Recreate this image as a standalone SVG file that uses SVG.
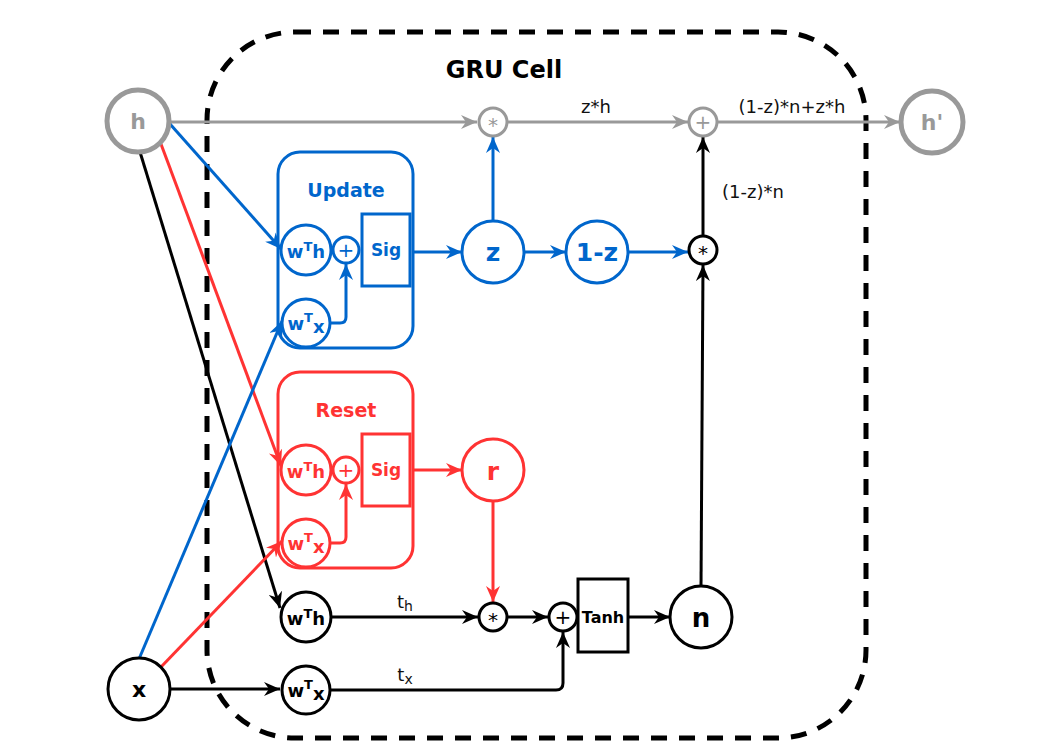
<svg xmlns="http://www.w3.org/2000/svg" width="1038" height="756" viewBox="0 0 1038 756">
<style>
.t{font-family:"DejaVu Sans","Liberation Sans",sans-serif;text-anchor:middle}
.b{font-weight:bold}
.lbl{font-size:18px;fill:#111}
.w{font-size:18px;font-weight:bold}
.s{font-size:13px}
.op{font-size:20px}
.bl{stroke:#0066cc;fill:none;stroke-width:3}
.rd{stroke:#ff3333;fill:none;stroke-width:3}
.bk{stroke:#000;fill:none;stroke-width:3}
.gy{stroke:#999;fill:none;stroke-width:3}
.nb{fill:#fff;stroke:#0066cc;stroke-width:3}
.nr{fill:#fff;stroke:#ff3333;stroke-width:3}
.nk{fill:#fff;stroke:#000;stroke-width:3}
.ng{fill:#fff;stroke:#999;stroke-width:3}
.ngb{fill:#fff;stroke:#999;stroke-width:5}
.fb{fill:#0066cc}.fr{fill:#ff3333}.fk{fill:#000}.fg{fill:#999}
</style>
<defs>
<marker id="ab" viewBox="0 0 16 14" refX="16" refY="7" markerWidth="16" markerHeight="14" markerUnits="userSpaceOnUse" orient="auto"><path d="M0,0 L16,7 L0,14 L5,7 Z" fill="#0066cc"/></marker>
<marker id="ar" viewBox="0 0 16 14" refX="16" refY="7" markerWidth="16" markerHeight="14" markerUnits="userSpaceOnUse" orient="auto"><path d="M0,0 L16,7 L0,14 L5,7 Z" fill="#ff3333"/></marker>
<marker id="ak" viewBox="0 0 16 14" refX="16" refY="7" markerWidth="16" markerHeight="14" markerUnits="userSpaceOnUse" orient="auto"><path d="M0,0 L16,7 L0,14 L5,7 Z" fill="#000"/></marker>
<marker id="ag" viewBox="0 0 16 14" refX="16" refY="7" markerWidth="16" markerHeight="14" markerUnits="userSpaceOnUse" orient="auto"><path d="M0,0 L16,7 L0,14 L5,7 Z" fill="#999"/></marker>
</defs>
<rect width="1038" height="756" fill="#fff"/>

<g id="gru-cell">
<rect x="207" y="32" width="659" height="706" rx="88" fill="none" stroke="#000" stroke-width="5" stroke-dasharray="16 12"/>
<text class="t b" x="504" y="78" font-size="24">GRU Cell</text>
</g>

<g id="update-box">
<rect x="278" y="152" width="135" height="196" rx="22" class="nb"/>
<text class="t b fb" x="346" y="197" font-size="19">Update</text>
</g>
<g id="reset-box">
<rect x="278" y="372" width="135" height="196" rx="22" class="nr"/>
<text class="t b fr" x="346" y="417" font-size="19">Reset</text>
</g>

<g id="connectors">
<path class="gy" d="M169,122 L477,122" marker-end="url(#ag)"/>
<path class="gy" d="M508,122 L688,122" marker-end="url(#ag)"/>
<path class="gy" d="M718,122 L900,122" marker-end="url(#ag)"/>
<path class="bl" d="M170,124 L281,249" marker-end="url(#ab)"/>
<path class="rd" d="M161,144 L281,466" marker-end="url(#ar)"/>
<path class="bk" d="M140,152 L280,608" marker-end="url(#ak)"/>
<path class="bl" d="M139,659 L282,321" marker-end="url(#ab)"/>
<path class="rd" d="M161,667 L282,541" marker-end="url(#ar)"/>
<path class="bk" d="M170,689 L280,689" marker-end="url(#ak)"/>
<path class="bl" d="M330,323 L340,323 Q346,323 346,317 L346,264" marker-end="url(#ab)"/>
<path class="bl" d="M413,252 L462,252" marker-end="url(#ab)"/>
<path class="bl" d="M493,221 L493,137" marker-end="url(#ab)"/>
<path class="bl" d="M524,252 L566,252" marker-end="url(#ab)"/>
<path class="bl" d="M628,252 L688,252" marker-end="url(#ab)"/>
<path class="bk" d="M703,235 L703,137" marker-end="url(#ak)"/>
<path class="rd" d="M330,543 L340,543 Q346,543 346,537 L346,484" marker-end="url(#ar)"/>
<path class="rd" d="M413,470 L462,470" marker-end="url(#ar)"/>
<path class="rd" d="M493,501 L493,602" marker-end="url(#ar)"/>
<path class="bk" d="M331,617 L478,617" marker-end="url(#ak)"/>
<path class="bk" d="M508,617 L548,617" marker-end="url(#ak)"/>
<path class="bk" d="M330,690 L556,690 Q563,690 563,683 L563,632" marker-end="url(#ak)"/>
<path class="bk" d="M628,617 L670,617" marker-end="url(#ak)"/>
<path class="bk" d="M701,586 L703,265" marker-end="url(#ak)"/>
<text class="t lbl" x="596" y="113">z*h</text>
<text class="t lbl" x="792" y="113">(1-z)*n+z*h</text>
<text class="t lbl" x="753" y="198">(1-z)*n</text>
<text class="t lbl" x="405" y="608">t<tspan font-size="14" dy="3">h</tspan></text>
<text class="t lbl" x="405" y="681">t<tspan font-size="14" dy="3">x</tspan></text>
</g>

<g id="h">
<circle cx="138" cy="121" r="31" class="ngb"/>
<text class="t b fg" x="138" y="129" font-size="22">h</text>
</g>
<g id="h-prime">
<circle cx="932" cy="122" r="31" class="ngb"/>
<text class="t b fg" x="932" y="130" font-size="22">h'</text>
</g>
<g id="x">
<circle cx="139" cy="689" r="31" class="nk"/>
<text class="t b" x="139" y="697" font-size="22">x</text>
</g>

<g id="mul-zh">
<circle cx="493" cy="122" r="14" class="ng"/>
<text class="t op fg" x="493" y="132">*</text>
</g>
<g id="add-out">
<circle cx="703" cy="122" r="14" class="ng"/>
<text class="t op fg" x="703" y="129">+</text>
</g>

<g id="update-wth">
<circle cx="306" cy="250" r="25" class="nb"/>
<text class="t w fb" x="306" y="258">w<tspan class="s" dy="-7">T</tspan><tspan dy="7">h</tspan></text>
</g>
<g id="update-add">
<circle cx="346" cy="250" r="13" class="nb"/>
<text class="t op fb" x="346" y="257">+</text>
</g>
<g id="update-sig">
<rect x="362" y="214" width="48" height="72" class="nb"/>
<text class="t b fb" x="386" y="256" font-size="17">Sig</text>
</g>
<g id="update-wtx">
<circle cx="306" cy="323" r="24" class="nb"/>
<text class="t w fb" x="306" y="330">w<tspan class="s" dy="-8">T</tspan><tspan dy="11">x</tspan></text>
</g>
<g id="z">
<circle cx="493" cy="252" r="31" class="nb"/>
<text class="t b fb" x="493" y="261" font-size="25">z</text>
</g>
<g id="one-minus-z">
<circle cx="597" cy="252" r="31" class="nb"/>
<text class="t b fb" x="597" y="261" font-size="25">1-z</text>
</g>
<g id="mul-n">
<circle cx="703" cy="250" r="14" class="nk"/>
<text class="t op" x="703" y="260">*</text>
</g>

<g id="reset-wth">
<circle cx="306" cy="470" r="25" class="nr"/>
<text class="t w fr" x="306" y="478">w<tspan class="s" dy="-7">T</tspan><tspan dy="7">h</tspan></text>
</g>
<g id="reset-add">
<circle cx="346" cy="470" r="13" class="nr"/>
<text class="t op fr" x="346" y="477">+</text>
</g>
<g id="reset-sig">
<rect x="362" y="434" width="48" height="72" class="nr"/>
<text class="t b fr" x="386" y="476" font-size="17">Sig</text>
</g>
<g id="reset-wtx">
<circle cx="306" cy="543" r="24" class="nr"/>
<text class="t w fr" x="306" y="550">w<tspan class="s" dy="-8">T</tspan><tspan dy="11">x</tspan></text>
</g>
<g id="r">
<circle cx="493" cy="470" r="31" class="nr"/>
<text class="t b fr" x="493" y="480" font-size="25">r</text>
</g>

<g id="cand-wth">
<circle cx="306" cy="617" r="25" class="nk"/>
<text class="t w" x="306" y="625">w<tspan class="s" dy="-7">T</tspan><tspan dy="7">h</tspan></text>
</g>
<g id="cand-wtx">
<circle cx="306" cy="690" r="24" class="nk"/>
<text class="t w" x="306" y="697">w<tspan class="s" dy="-8">T</tspan><tspan dy="11">x</tspan></text>
</g>
<g id="mul-r">
<circle cx="493" cy="617" r="14" class="nk"/>
<text class="t op" x="493" y="627">*</text>
</g>
<g id="cand-add">
<circle cx="563" cy="617" r="14" class="nk"/>
<text class="t op" x="563" y="624">+</text>
</g>
<g id="tanh">
<rect x="578" y="579" width="50" height="73" class="nk"/>
<text class="t b" x="603" y="623" font-size="16">Tanh</text>
</g>
<g id="n">
<circle cx="701" cy="617" r="31" class="nk"/>
<text class="t b" x="701" y="627" font-size="26">n</text>
</g>
</svg>
